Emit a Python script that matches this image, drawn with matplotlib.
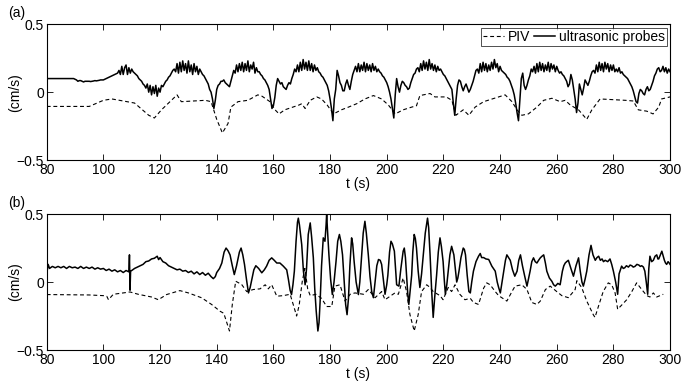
import numpy as np
import matplotlib
matplotlib.use("Agg")
import matplotlib.pyplot as plt

plt.rcParams['font.family'] = ['Liberation Sans', 'DejaVu Sans']

# ---------------- data ----------------
# panel (a): ultrasonic probes, 0.5 s sampling from 80 to 300 s
t_a_probe = np.arange(80, 300.01, 0.5)
v_a_probe = [
    0.10, 0.10, 0.10, 0.10, 0.10, 0.10, 0.10, 0.10, 0.10, 0.10,
    0.10, 0.10, 0.10, 0.10, 0.10, 0.10, 0.10, 0.10, 0.10, 0.10,
    0.095, 0.09, 0.08, 0.085, 0.085, 0.08, 0.075, 0.08, 0.08, 0.08,
    0.08, 0.078, 0.08, 0.082, 0.085, 0.083, 0.085, 0.087, 0.09, 0.09,
    0.09, 0.095, 0.10, 0.105, 0.11, 0.115, 0.12, 0.125, 0.13, 0.135,
    0.14, 0.16, 0.13, 0.19, 0.13, 0.18, 0.20, 0.13, 0.18, 0.14,
    0.17, 0.15, 0.14, 0.13, 0.12, 0.10, 0.09, 0.08, 0.06, 0.05,
    0.03, 0.06, 0.00, 0.05, -0.02, 0.04, -0.01, 0.05, -0.03, 0.03,
    0.00, 0.05, 0.04, 0.06, 0.08, 0.09, 0.11, 0.12, 0.14, 0.16,
    0.17, 0.15, 0.21, 0.14, 0.22, 0.15, 0.23, 0.16, 0.21, 0.14,
    0.23, 0.15, 0.20, 0.13, 0.21, 0.15, 0.19, 0.13, 0.17, 0.15,
    0.13, 0.12, 0.10, 0.08, 0.06, 0.02, 0.00, -0.05, -0.12, -0.06,
    0.02, 0.05, 0.06, 0.08, 0.08, 0.09, 0.07, 0.06, 0.05, 0.04,
    0.08, 0.12, 0.16, 0.14, 0.20, 0.15, 0.21, 0.16, 0.22, 0.15,
    0.21, 0.16, 0.23, 0.15, 0.20, 0.17, 0.22, 0.14, 0.18, 0.15,
    0.15, 0.13, 0.12, 0.10, 0.09, 0.07, 0.05, 0.02, -0.05, -0.12,
    -0.10, -0.04, 0.05, 0.10, 0.08, 0.06, 0.07, 0.04, 0.03, 0.02,
    0.05, 0.07, 0.06, 0.10, 0.13, 0.17, 0.15, 0.20, 0.15, 0.22,
    0.16, 0.24, 0.17, 0.22, 0.16, 0.23, 0.16, 0.21, 0.15, 0.20,
    0.16, 0.18, 0.15, 0.14, 0.12, 0.11, 0.09, 0.07, 0.05, 0.01,
    -0.05, -0.12, -0.21, -0.05, 0.02, 0.16, 0.12, 0.07, 0.05, 0.01,
    0.01, 0.06, 0.09, 0.05, 0.02, 0.08, 0.13, 0.16, 0.19, 0.15,
    0.21, 0.15, 0.20, 0.16, 0.22, 0.15, 0.21, 0.16, 0.20, 0.15,
    0.21, 0.16, 0.19, 0.15, 0.17, 0.15, 0.14, 0.12, 0.11, 0.09,
    0.07, 0.04, 0.00, -0.05, -0.12, -0.19, -0.02, 0.10, 0.04, 0.00,
    0.05, 0.08, 0.07, 0.05, 0.04, 0.02, 0.03, 0.07, 0.10, 0.13,
    0.14, 0.17, 0.18, 0.15, 0.21, 0.16, 0.23, 0.17, 0.22, 0.16,
    0.24, 0.17, 0.21, 0.16, 0.20, 0.15, 0.19, 0.16, 0.17, 0.15,
    0.13, 0.12, 0.10, 0.08, 0.06, 0.04, 0.02, -0.08, -0.17, -0.05,
    0.05, 0.09, 0.08, 0.04, 0.01, 0.04, 0.06, 0.03, 0.00, 0.02,
    0.05, 0.08, 0.12, 0.16, 0.17, 0.14, 0.21, 0.15, 0.22, 0.16,
    0.21, 0.15, 0.20, 0.16, 0.22, 0.17, 0.24, 0.18, 0.21, 0.15,
    0.19, 0.16, 0.15, 0.14, 0.13, 0.11, 0.10, 0.08, 0.05, 0.02,
    -0.02, -0.08, -0.15, -0.21, -0.05, 0.10, 0.14, 0.05, 0.02, 0.05,
    0.09, 0.12, 0.17, 0.15, 0.19, 0.14, 0.21, 0.15, 0.22, 0.16,
    0.21, 0.15, 0.20, 0.16, 0.22, 0.15, 0.21, 0.17, 0.20, 0.15,
    0.19, 0.16, 0.14, 0.15, 0.13, 0.12, 0.10, 0.08, 0.04, 0.06,
    0.13, 0.09, 0.02, -0.05, -0.15, -0.08, 0.06, 0.02, -0.02, 0.03,
    0.09, 0.07, 0.05, 0.08, 0.12, 0.15, 0.16, 0.14, 0.20, 0.15,
    0.22, 0.16, 0.21, 0.15, 0.22, 0.17, 0.21, 0.15, 0.20, 0.16,
    0.20, 0.15, 0.17, 0.15, 0.18, 0.14, 0.15, 0.13, 0.12, 0.11,
    0.10, 0.08, 0.06, 0.04, 0.01, -0.03, -0.07, -0.08, -0.01, 0.02,
    0.01, -0.01, -0.02, 0.02, 0.04, 0.01, 0.02, 0.05, 0.08, 0.12,
    0.14, 0.17, 0.18, 0.15, 0.16, 0.19, 0.15, 0.18, 0.14, 0.17,
    0.15,
]

# panel (a): PIV
t_a_piv = [80, 95, 100, 103, 107, 111, 116, 118, 120.5, 124, 126, 127.5, 136, 138,
           140, 142, 144, 145, 147.5, 151, 154.5, 156, 158.8, 160.6, 162, 164, 169,
           170, 171.2, 173, 175.3, 177, 179, 181.2, 184, 186.5, 189.4, 192.3, 195.3,
           198.2, 200.6, 203, 205.8, 208.8, 210.5, 211.7, 215.3, 217, 221, 223, 224.4,
           227, 229, 231.2, 234.2, 239.5, 241.8, 244.2, 246, 247.7, 250, 253, 255.4,
           258.3, 261.2, 263, 264.8, 267.7, 270.6, 272.4, 275.3, 284.2, 287, 288.8,
           291.8, 294, 296, 297, 300]
v_a_piv = [-0.105, -0.105, -0.06, -0.05, -0.065, -0.08, -0.17, -0.19, -0.13, -0.06,
           -0.02, -0.07, -0.06, -0.07, -0.20, -0.30, -0.23, -0.11, -0.07, -0.06,
           -0.02, -0.03, -0.07, -0.13, -0.16, -0.13, -0.095, -0.085, -0.12, -0.06,
           -0.035, -0.05, -0.095, -0.16, -0.13, -0.11, -0.085, -0.05, -0.025, -0.05,
           -0.095, -0.16, -0.13, -0.11, -0.10, -0.025, -0.01, -0.035, -0.035, -0.06,
           -0.17, -0.13, -0.17, -0.11, -0.07, -0.035, -0.02, -0.07, -0.13, -0.17,
           -0.16, -0.11, -0.06, -0.045, -0.07, -0.06, -0.095, -0.13, -0.20, -0.13,
           -0.05, -0.06, -0.065, -0.13, -0.14, -0.16, -0.11, -0.05, -0.035]

# panel (b): ultrasonic probes
t_b_probe = [
    80, 80.5, 81, 82, 83, 84, 85, 86, 87, 88, 89, 90, 91, 92, 93, 94, 95, 96,
    97, 98, 99, 100, 101, 102, 103, 104, 105, 106, 107, 108, 109, 109.2, 109.4,
    109.6, 110, 111, 112, 113, 114, 115, 116, 117, 118, 119, 119.5, 120, 121,
    122, 123, 124, 125, 126, 127, 128, 129, 130, 131, 132, 133, 134, 135, 136,
    137, 138, 138.8, 139.5, 140, 141, 141.8, 142.6, 143.3, 144, 144.7, 145.5,
    146.2, 147, 148, 148.6, 149.2, 149.8, 150.5, 151.2, 151.8, 152.4, 153.1,
    153.8, 154.8, 155.9, 156.8, 157.6, 158.5, 159.4, 160.3, 161.2, 162.3, 163.5,
    164.7, 165.3, 165.9, 166.4, 166.9, 167.4, 168, 168.5, 168.8, 169.2, 170,
    170.6, 171.2, 171.7, 172.3, 173, 173.5, 174.1, 174.6, 175.1, 175.7, 176.1,
    176.5, 177, 177.6, 178.2, 178.6, 178.8, 179.1, 179.6, 180.2, 180.8, 181.4,
    182.1, 182.7, 183.3, 183.8, 184.4, 185, 185.5, 186, 186.5, 187, 187.6, 188,
    188.5, 189.2, 190, 190.5, 191, 191.7, 192.3, 192.8, 193.5, 194.1, 194.7,
    195.3, 195.9, 196.5, 197.1, 197.7, 198.2, 198.8, 199.4, 200, 200.4, 201,
    201.5, 202, 202.7, 203.1, 203.5, 204.3, 205, 205.8, 206.2, 206.6, 207,
    207.4, 207.8, 208.3, 208.8, 209.2, 209.7, 210.1, 210.5, 211.1, 211.7, 212.3,
    212.9, 213.6, 214.4, 214.8, 215.3, 215.9, 216.4, 216.9, 217.6, 218.2, 218.8,
    219.3, 219.9, 220.3, 220.7, 221.2, 221.7, 222.3, 222.9, 223.3, 223.7, 224.2,
    224.7, 225.1, 225.5, 226.2, 227, 227.4, 227.8, 228.4, 229, 229.5, 230,
    230.6, 231.5, 232.4, 233, 233.5, 234.2, 235, 236, 237.1, 238.3, 239, 239.5,
    240.1, 240.7, 241.3, 241.9, 242.4, 243, 243.6, 244.4, 245.2, 246, 246.6,
    247.2, 247.9, 248.7, 249.5, 250, 250.6, 251.2, 251.8, 252.4, 253, 253.6,
    254.2, 254.8, 255.4, 256, 256.5, 257.4, 258.3, 258.9, 259.5, 260.4, 261.2,
    261.6, 262, 262.5, 263, 263.5, 264.1, 265, 265.9, 266.8, 267.7, 268.3,
    268.9, 269.4, 270, 270.6, 271.4, 272.1, 272.8, 273.6, 274.2, 274.8, 275.4,
    276, 276.5, 277.1, 278, 278.8, 279.4, 280, 280.8, 281.5, 282, 282.9, 283.5,
    284, 284.6, 285.3, 285.9, 286.5, 287, 287.6, 288.3, 289, 289.5, 290, 290.6,
    291.1, 291.6, 292.1, 292.5, 292.9, 293.5, 294.1, 294.7, 295.3, 295.7, 296,
    296.6, 297.1, 297.6, 298, 298.4, 298.8, 299.3, 299.7, 300]
v_b_probe = [
    0.06, 0.13, 0.10, 0.115, 0.105, 0.115, 0.105, 0.115, 0.10, 0.115, 0.105,
    0.11, 0.10, 0.115, 0.10, 0.11, 0.10, 0.11, 0.095, 0.105, 0.095, 0.10, 0.085,
    0.095, 0.08, 0.09, 0.075, 0.085, 0.07, 0.085, 0.075, 0.20, -0.06, 0.08,
    0.085, 0.10, 0.11, 0.12, 0.13, 0.15, 0.155, 0.17, 0.175, 0.19, 0.165, 0.18,
    0.15, 0.14, 0.12, 0.11, 0.10, 0.09, 0.095, 0.08, 0.085, 0.07, 0.08, 0.06,
    0.075, 0.055, 0.07, 0.05, 0.065, 0.04, 0.025, 0.04, 0.07, 0.10, 0.14, 0.22,
    0.25, 0.23, 0.20, 0.12, 0.055, 0.12, 0.22, 0.25, 0.20, 0.13, 0.02, -0.08,
    -0.04, 0.02, 0.09, 0.12, 0.10, 0.068, 0.09, 0.117, 0.16, 0.178, 0.16, 0.14,
    0.14, 0.117, 0.09, 0.02, -0.06, -0.092, -0.02, 0.08, 0.30, 0.44, 0.47, 0.42,
    0.275, 0.08, -0.02, 0.10, 0.35, 0.435, 0.33, 0.178, -0.05, -0.21, -0.36,
    -0.30, -0.14, 0.12, 0.325, 0.30, 0.42, 0.50, 0.38, 0.20, 0.02, -0.092, 0.0,
    0.15, 0.30, 0.35, 0.30, 0.20, 0.0, -0.165, -0.24, -0.12, 0.12, 0.325, 0.28,
    0.15, 0.0, -0.092, 0.0, 0.15, 0.36, 0.447, 0.36, 0.20, 0.04, -0.07, -0.115,
    0.0, 0.12, 0.166, 0.16, 0.13, 0.02, -0.09, -0.02, 0.05, 0.22, 0.30, 0.28,
    0.227, 0.10, -0.02, -0.03, 0.10, 0.227, 0.25, 0.18, 0.05, -0.08, -0.165,
    -0.06, 0.05, 0.22, 0.35, 0.32, 0.25, 0.08, -0.04, 0.06, 0.20, 0.36, 0.47,
    0.40, 0.20, -0.08, -0.26, -0.12, 0.05, 0.22, 0.325, 0.26, 0.15, 0.02, -0.09,
    -0.02, 0.08, 0.20, 0.263, 0.23, 0.20, 0.10, 0.0, 0.03, 0.08, 0.18, 0.25,
    0.24, 0.20, 0.05, -0.07, -0.08, 0.0, 0.08, 0.15, 0.19, 0.21, 0.18, 0.18,
    0.17, 0.166, 0.117, 0.08, 0.0, -0.04, -0.08, 0.0, 0.08, 0.16, 0.20, 0.18,
    0.16, 0.09, 0.043, 0.08, 0.16, 0.20, 0.12, 0.043, -0.03, 0.02, 0.08, 0.15,
    0.178, 0.15, 0.14, 0.16, 0.178, 0.19, 0.20, 0.14, 0.08, 0.03, 0.005, -0.02,
    -0.03, -0.01, -0.02, 0.03, 0.08, 0.12, 0.14, 0.15, 0.16, 0.10, 0.043, 0.12,
    0.178, 0.08, 0.0, -0.03, 0.02, 0.08, 0.20, 0.27, 0.20, 0.16, 0.18, 0.19,
    0.16, 0.17, 0.15, 0.16, 0.15, 0.17, 0.13, 0.08, 0.0, -0.09, 0.06, 0.117,
    0.10, 0.105, 0.12, 0.11, 0.125, 0.12, 0.11, 0.115, 0.13, 0.125, 0.115,
    0.12, 0.11, 0.08, 0.0, -0.09, 0.10, 0.19, 0.15, 0.16, 0.19, 0.20, 0.17,
    0.17, 0.20, 0.227, 0.19, 0.16, 0.14, 0.13, 0.15, 0.14, 0.13]

# panel (b): PIV
t_b_piv = [80, 95, 100, 101.2, 101.8, 103.5, 107, 109.4, 112.3, 117, 119.4, 122.3, 127,
           130, 134.7, 138.2, 141.2, 142.5, 144.5, 145.5, 146.7, 148.8, 150.6, 152.9,
           155.3, 157.1, 158.2, 159.4, 161.2, 163.5, 165.9, 167, 168.2, 169.1, 170.2,
           171.1, 172.1, 173, 175, 177, 178.8, 180.6, 181.7, 183.5, 185.3, 187.1,
           188.8, 191.8, 193.5, 195.9, 198.2, 199.4, 202.9, 204.1, 205.8, 207, 208.2,
           209.7, 211.1, 212.3, 214.1, 215.3, 216.4, 218.8, 219.9, 221.7, 222.9, 224.1,
           225.8, 227.6, 229.5, 230.6, 232.4, 234.2, 235.3, 236.5, 238.3, 239.5, 240.6,
           242.4, 244.2, 245.3, 247.7, 249.5, 251.2, 253, 254.2, 256, 257.7, 260, 261.8,
           264.1, 266.5, 267.1, 268.8, 270.6, 272.9, 273.5, 274.7, 276.4, 278.2, 279.4,
           280.6, 281.5, 282.9, 284.7, 286.5, 288.2, 290, 291.8, 292.9, 294.1, 295.3,
           297.6]
v_b_piv = [-0.092, -0.095, -0.10, -0.105, -0.13, -0.09, -0.08, -0.073, -0.09, -0.11,
           -0.13, -0.092, -0.063, -0.08, -0.116, -0.165, -0.215, -0.23, -0.36, -0.165,
           0.006, -0.018, -0.07, -0.055, -0.05, -0.02, -0.05, -0.02, -0.104, -0.10,
           -0.09, -0.165, -0.25, -0.17, 0.006, 0.10, -0.05, -0.10, -0.09, -0.12, -0.18,
           -0.18, -0.03, -0.02, -0.14, -0.09, -0.08, -0.09, -0.055, -0.115, -0.07,
           -0.13, -0.08, -0.09, 0.03, -0.07, -0.24, -0.36, -0.24, -0.07, -0.02, -0.04,
           -0.07, -0.10, -0.13, -0.04, -0.07, -0.02, -0.09, -0.13, -0.12, -0.15,
           -0.165, -0.045, -0.006, -0.02, -0.07, -0.10, -0.115, -0.14, -0.07, -0.03,
           -0.02, -0.055, -0.15, -0.165, -0.14, -0.055, -0.03, -0.07, -0.10, -0.115,
           -0.055, 0.01, -0.04, -0.14, -0.24, -0.26, -0.18, -0.07, -0.006, -0.02,
           -0.08, -0.20, -0.17, -0.13, -0.07, -0.006, -0.055, -0.10, -0.11, -0.08,
           -0.11, -0.09]

x_ticks = [80, 100, 120, 140, 160, 180, 200, 220, 240, 260, 280, 300]
y_ticks = [-0.5, 0, 0.5]
y_ticklabels = ['\u22120.5', '0', '0.5']

# ---------------- figure ----------------
fig = plt.figure(figsize=(6.82, 3.84), dpi=100)
ax1 = fig.add_axes([0.0685, 0.583, 0.914, 0.354])
ax2 = fig.add_axes([0.0685, 0.0885, 0.914, 0.354])

dash = (0, (3.5, 2.5))
ax1.plot(t_a_piv, v_a_piv, color='black', lw=0.8, linestyle=dash, label='PIV')
ax1.plot(t_a_probe, v_a_probe, color='black', lw=1.1, label='ultrasonic probes')
ax2.plot(t_b_piv, v_b_piv, color='black', lw=0.8, linestyle=dash)
ax2.plot(t_b_probe, v_b_probe, color='black', lw=1.1)

for ax in (ax1, ax2):
    ax.set_xlim(80, 300)
    ax.set_ylim(-0.5, 0.5)
    ax.set_xticks(x_ticks)
    ax.set_yticks(y_ticks)
    ax.set_yticklabels(y_ticklabels)
    ax.tick_params(direction='in', length=4, width=0.6, top=True, right=True,
                   labelsize=10, pad=2)
    for s in ax.spines.values():
        s.set_linewidth(0.8)
    ax.set_xlabel('t (s)', fontsize=10, labelpad=0)
    ax.set_ylabel('(cm/s)', fontsize=10, va='center')
    ax.yaxis.set_label_coords(-0.05, 0.5)

leg = ax1.legend(loc='upper right', ncol=2, fontsize=10, frameon=True, fancybox=False,
                 handlelength=1.5, handletextpad=0.25, columnspacing=0.3,
                 borderpad=0.15, borderaxespad=0.25)
leg.get_frame().set_edgecolor('black')
leg.get_frame().set_linewidth(0.6)

fig.text(0.012, 0.985, '(a)', fontsize=10, ha='left', va='top')
fig.text(0.012, 0.49, '(b)', fontsize=10, ha='left', va='top')

fig.savefig('out.png', dpi=100)
